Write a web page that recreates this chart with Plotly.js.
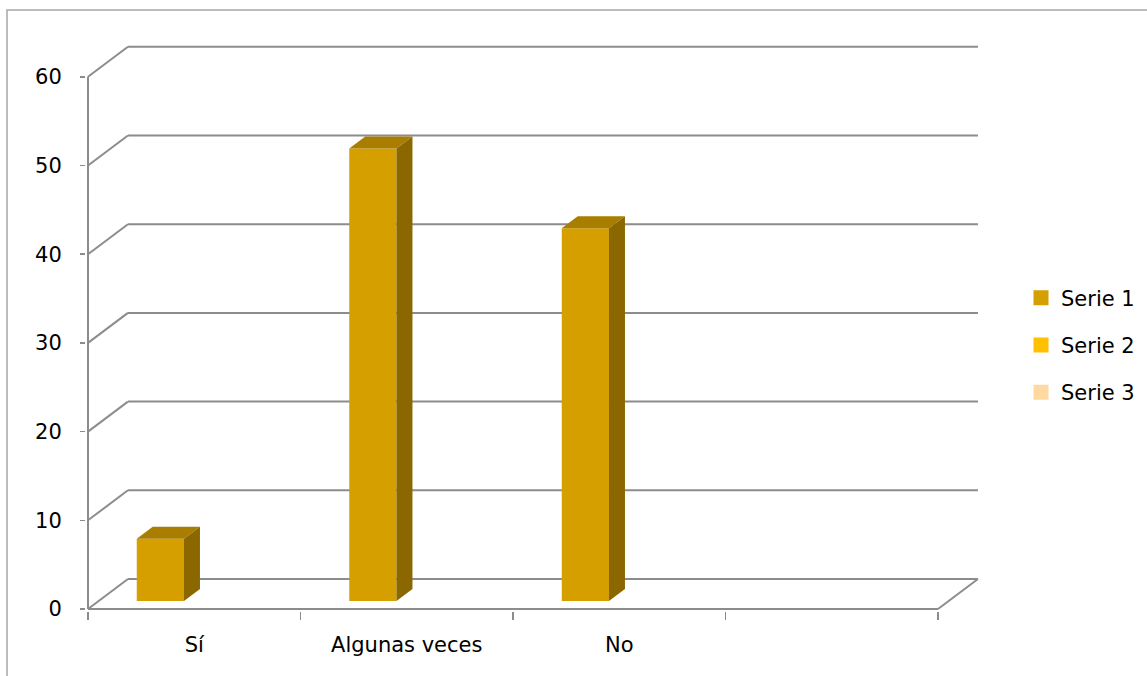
<!DOCTYPE html>
<html>
<head>
<meta charset="utf-8">
<script src="https://cdn.plot.ly/plotly-3.0.1.min.js"></script>
<style>
  html, body { margin: 0; padding: 0; background: #fff; }
  #chart { width: 1147px; height: 676px; }
</style>
</head>
<body>
<div id="chart"></div>
<script>
// Chart values
const categories = ['Sí', 'Algunas veces', 'No', ''];
const seriesNames = ['Serie 1', 'Serie 2', 'Serie 3'];
const serie1 = [7, 51, 42];
const serie2 = [null, null, null];
const serie3 = [null, null, null];
const yTickValues = [0, 10, 20, 30, 40, 50, 60];

// Colours: front face, top face, side face for each series
const frontColors = ['#D59F00', '#FFC000', '#FFD9A0'];
const topColors = ['#A97E00', '#C99800', '#CCAE80'];
const sideColors = ['#8B6700', '#A67D00', '#A68D68'];

// 3D look: depth of the floor in axis units, and where the columns sit in it
const DEPTH_X = 0.188;
const DEPTH_Y = 3.38;
const FRONT_F = 0.27;
const BACK_F = 0.67;
const COL_SHIFT = 0.012;         // small extra nudge of the columns to the right
const GAP_WIDTH = 1.5;           // 150 % gap between clusters
const nSeries = seriesNames.length;
const slot = 1 / (nSeries + GAP_WIDTH);

const allSeries = [serie1, serie2, serie3];
const nCats = categories.length;
const gridColor = '#8C8C8C';

const traces = [];

allSeries.forEach((vals, j) => {
  const xs = [], ys = [], topX = [], topY = [], sideX = [], sideY = [];
  const base = FRONT_F * DEPTH_Y;
  const ddx = (BACK_F - FRONT_F) * DEPTH_X;
  const ddy = (BACK_F - FRONT_F) * DEPTH_Y;
  vals.forEach((v, i) => {
    if (v === null) return;
    const xl = i + (GAP_WIDTH / 2 + j) * slot + FRONT_F * DEPTH_X + COL_SHIFT;
    const xr = xl + slot;
    xs.push((xl + xr) / 2);
    ys.push(v);
    const t = base + v;
    topX.push(xl, xr, xr + ddx, xl + ddx, xl, null);
    topY.push(t, t, t + ddy, t + ddy, t, null);
    sideX.push(xr, xr + ddx, xr + ddx, xr, xr, null);
    sideY.push(base, base + ddy, t + ddy, t, base, null);
  });
  // front faces
  traces.push({
    type: 'bar', x: xs, y: ys, base: base, width: slot,
    marker: { color: frontColors[j], line: { width: 0 } },
    showlegend: false, hoverinfo: 'skip', legendgroup: 'g' + j
  });
  // top faces
  traces.push({
    type: 'scatter', mode: 'lines', x: topX, y: topY, fill: 'toself',
    fillcolor: topColors[j], line: { width: 0, color: topColors[j] },
    showlegend: false, hoverinfo: 'skip', legendgroup: 'g' + j
  });
  // side faces
  traces.push({
    type: 'scatter', mode: 'lines', x: sideX, y: sideY, fill: 'toself',
    fillcolor: sideColors[j], line: { width: 0, color: sideColors[j] },
    showlegend: false, hoverinfo: 'skip', legendgroup: 'g' + j
  });
});

// legend keys
seriesNames.forEach((name, j) => {
  traces.push({
    type: 'scatter', mode: 'markers', x: [null], y: [null], name: name,
    marker: { symbol: 'square', size: 15, color: frontColors[j] },
    legendgroup: 'g' + j, hoverinfo: 'skip'
  });
});

// Walls and floor
const shapes = [];
const line = (x0, y0, x1, y1) => ({
  type: 'line', xref: 'x', yref: 'y', x0, y0, x1, y1, layer: 'below',
  line: { color: gridColor, width: 2 }
});
yTickValues.forEach(v => {
  shapes.push(line(0, v, DEPTH_X, v + DEPTH_Y));
  shapes.push(line(DEPTH_X, v + DEPTH_Y, nCats + DEPTH_X, v + DEPTH_Y));
});
shapes.push(line(0, 0, 0, yTickValues[yTickValues.length - 1]));
shapes.push(line(0, 0, nCats, 0));
shapes.push(line(nCats, 0, nCats + DEPTH_X, DEPTH_Y));

// Plot box geometry
const W = 1147, H = 676;
const M = { l: 86, r: 166, t: 45, b: 65 };
const pxPerCat = 212.5, pxPerUnit = 8.87;
const xStart = (M.l - 88) / pxPerCat;
const xRange = [xStart, xStart + (W - M.l - M.r) / pxPerCat];
const yStart = -(H - M.b - 609) / pxPerUnit;
const yRange = [yStart, yStart + (H - M.t - M.b) / pxPerUnit];

// outer chart border
const pw = W - M.l - M.r, ph = H - M.t - M.b;
const px = x => (x - M.l) / pw, py = y => (H - M.b - y) / ph;
shapes.push({
  type: 'path', xref: 'paper', yref: 'paper',
  path: `M ${px(7)} ${py(H)} L ${px(7)} ${py(10)} L ${px(W)} ${py(10)}`,
  line: { color: '#A6A6A6', width: 1.5 }
});

const layout = {
  width: W, height: H,
  margin: Object.assign({ autoexpand: false }, M),
  paper_bgcolor: '#FFFFFF', plot_bgcolor: 'rgba(0,0,0,0)',
  font: { family: 'DejaVu Sans', size: 21, color: '#000000' },
  showlegend: true,
  barmode: 'overlay',
  xaxis: {
    range: xRange, showgrid: false, zeroline: false, showline: false,
    tickmode: 'array',
    tickvals: categories.map((c, i) => i + 0.5),
    ticktext: categories,
    ticks: '', ticklabelstandoff: 19,
    minor: {
      tickmode: 'array', tickvals: categories.map((c, i) => i).concat([nCats]),
      ticks: 'outside', ticklen: 8, tickwidth: 1.5, tickcolor: gridColor, showgrid: false
    },
    fixedrange: true
  },
  yaxis: {
    range: yRange, showgrid: false, zeroline: false, showline: false,
    tickmode: 'array', tickvals: yTickValues,
    ticks: 'outside', ticklen: 5, tickwidth: 1.5, tickcolor: gridColor,
    ticklabelstandoff: 14, fixedrange: true
  },
  legend: {
    x: px(1021), y: py(345), xanchor: 'left', yanchor: 'middle',
    font: { size: 21 }, traceorder: 'grouped', tracegroupgap: 17,
    bgcolor: 'rgba(0,0,0,0)'
  },
  shapes: shapes
};

Plotly.newPlot('chart', traces, layout, { displayModeBar: false, staticPlot: true });
</script>
</body>
</html>
